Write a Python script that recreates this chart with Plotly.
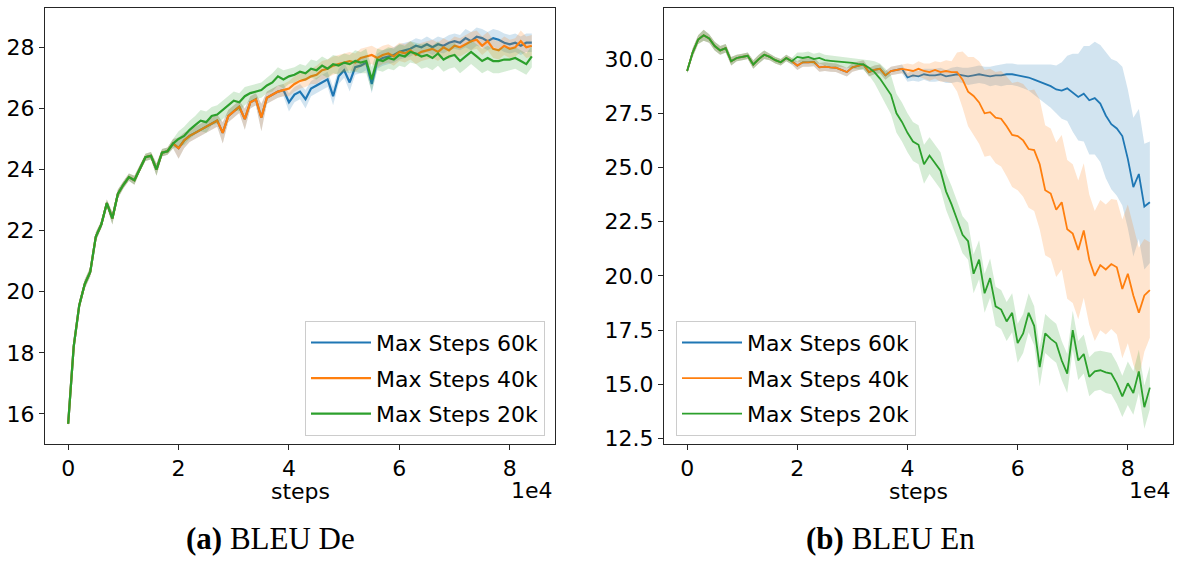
import plotly.graph_objects as go

# Evaluation steps (every 1000 updates)
STEP = 1000
steps = list(range(0, 84001, STEP))

# ---------------- BLEU De ----------------
# shared run before the schedules diverge (0 .. 19k)
de_shared = [15.68, 18.2, 19.55, 20.25, 20.65, 21.8, 22.2, 22.9, 22.4, 23.2,
             23.5, 23.75, 23.65, 24.05, 24.4, 24.45, 24.0, 24.55, 24.6, 24.85]
de_shared_sd = [0.1, 0.15, 0.15, 0.15, 0.15, 0.15, 0.12, 0.12, 0.2, 0.15,
                0.12, 0.12, 0.15, 0.12, 0.12, 0.12, 0.2, 0.12, 0.12, 0.15]
# Max Steps 20k, 20k .. 84k
de_20k_tail = [25.0, 25.1, 25.3, 25.45, 25.6, 25.55, 25.75, 25.8, 25.95, 26.1,
               26.25, 26.2, 26.4, 26.5, 26.55, 26.6, 26.75, 26.85, 27.05, 26.95,
               27.05, 27.1, 27.2, 27.15, 27.3, 27.25, 27.4, 27.3, 27.45, 27.4,
               27.5, 27.45, 27.55, 27.5, 27.55, 26.95, 27.6, 27.55, 27.65, 27.6,
               27.75, 27.7, 27.85, 27.8, 27.7, 27.75, 27.65, 27.8, 27.6, 27.7,
               27.75, 27.55, 27.7, 27.85, 27.7, 27.55, 27.65, 27.55, 27.55, 27.6,
               27.6, 27.65, 27.55, 27.45, 27.7]
de_20k_tail_sd = [0.25, 0.3, 0.3, 0.3, 0.35, 0.35, 0.3, 0.3, 0.3, 0.3,
                  0.3, 0.3, 0.3, 0.25, 0.25, 0.25, 0.25, 0.3, 0.3, 0.3,
                  0.25, 0.25, 0.25, 0.25, 0.3, 0.3, 0.3, 0.3, 0.3, 0.3,
                  0.3, 0.3, 0.35, 0.35, 0.4, 0.4, 0.35, 0.35, 0.35, 0.35,
                  0.35, 0.35, 0.35, 0.35, 0.4, 0.4, 0.4, 0.4, 0.4, 0.4,
                  0.4, 0.4, 0.4, 0.4, 0.4, 0.4, 0.4, 0.4, 0.4, 0.4,
                  0.35, 0.35, 0.35, 0.35, 0.35]
# Max Steps 40k / 60k share this stretch (20k .. 39k)
de_40k_mid = [24.7, 24.95, 25.1, 25.2, 25.3, 25.4, 25.5, 25.6, 25.2, 25.75,
              25.9, 26.05, 25.65, 26.2, 26.3, 25.7, 26.35, 26.45, 26.55, 26.6]
de_40k_mid_sd = [0.35, 0.25, 0.2, 0.2, 0.2, 0.2, 0.2, 0.2, 0.35, 0.2,
                 0.2, 0.2, 0.35, 0.2, 0.2, 0.45, 0.2, 0.2, 0.2, 0.2]
# Max Steps 40k, 40k .. 84k
de_40k_tail = [26.65, 26.8, 26.9, 26.95, 27.05, 27.1, 27.25, 27.3, 27.4, 27.45,
               27.5, 27.55, 27.5, 27.65, 27.7, 27.75, 27.65, 27.75, 27.8, 27.7,
               27.85, 27.8, 27.9, 27.75, 27.85, 27.9, 27.95, 27.85, 28.0, 27.9,
               28.05, 28.0, 28.1, 28.2, 28.25, 28.05, 28.2, 27.95, 27.9, 28.05,
               27.95, 28.0, 28.2, 28.0, 28.05]
de_40k_tail_sd = [0.25, 0.25, 0.25, 0.25, 0.25, 0.3, 0.3, 0.3, 0.3, 0.3,
                  0.3, 0.3, 0.3, 0.3, 0.3, 0.3, 0.3, 0.3, 0.3, 0.3,
                  0.3, 0.3, 0.3, 0.3, 0.3, 0.3, 0.3, 0.3, 0.3, 0.3,
                  0.3, 0.3, 0.3, 0.3, 0.3, 0.3, 0.3, 0.3, 0.3, 0.3,
                  0.3, 0.3, 0.35, 0.35, 0.35]
# Max Steps 60k, 40k .. 84k
de_60k_tail = [26.2, 26.45, 26.55, 26.3, 26.65, 26.75, 26.85, 26.95, 26.4, 27.05,
               27.25, 26.85, 27.35, 27.4, 27.5, 26.8, 27.55, 27.65, 27.7, 27.75,
               27.85, 27.9, 27.95, 28.05, 28.0, 28.1, 28.0, 28.1, 28.05, 28.15,
               28.2, 28.15, 28.3, 28.2, 28.35, 28.3, 28.2, 28.3, 28.25, 28.15,
               28.1, 28.15, 28.05, 28.15, 28.15]
de_60k_tail_sd = [0.3, 0.25, 0.25, 0.3, 0.25, 0.25, 0.25, 0.25, 0.3, 0.25,
                  0.25, 0.3, 0.25, 0.25, 0.25, 0.3, 0.25, 0.25, 0.25, 0.25,
                  0.25, 0.25, 0.25, 0.25, 0.25, 0.25, 0.25, 0.25, 0.25, 0.25,
                  0.25, 0.25, 0.3, 0.3, 0.3, 0.3, 0.3, 0.3, 0.3, 0.3,
                  0.3, 0.3, 0.3, 0.3, 0.3]

# ---------------- BLEU En ----------------
en_shared = [29.45, 30.3, 30.9, 31.1, 30.95, 30.6, 30.4, 30.5, 29.9, 30.05,
             30.1, 30.15, 29.75, 30.0, 30.2, 30.1, 29.95, 29.85, 30.05, 29.9]
en_shared_sd = [0.1, 0.2, 0.2, 0.25, 0.2, 0.2, 0.2, 0.2, 0.2, 0.15,
                0.15, 0.15, 0.2, 0.2, 0.2, 0.15, 0.15, 0.15, 0.15, 0.15]
en_20k_tail = [30.1, 30.05, 30.1, 30.0, 30.05, 29.95, 29.92, 29.9, 29.88, 29.85,
               29.82, 29.78, 29.75, 29.6, 29.4, 29.1, 28.75, 28.35, 27.5, 27.1,
               26.6, 26.2, 26.05, 25.15, 25.55, 25.2, 24.85, 23.9, 23.3, 22.6,
               21.9, 21.6, 20.1, 20.75, 19.2, 19.9, 18.6, 18.45, 17.9, 18.3,
               16.9, 17.35, 18.3, 17.7, 15.8, 17.35, 17.1, 16.9, 16.1, 15.5,
               17.5, 16.1, 16.4, 15.35, 15.6, 15.65, 15.55, 15.5, 15.05, 14.45,
               15.05, 14.6, 15.6, 13.95, 14.85]
en_20k_tail_sd = [0.2, 0.25, 0.25, 0.25, 0.25, 0.25, 0.25, 0.25, 0.25, 0.25,
                  0.25, 0.25, 0.25, 0.35, 0.5, 0.7, 0.8, 0.9, 0.9, 0.9,
                  0.9, 0.9, 0.9, 0.9, 0.85, 0.85, 0.85, 0.85, 0.85, 0.85,
                  0.85, 0.85, 0.9, 0.9, 0.9, 0.9, 0.9, 0.9, 0.9, 0.9,
                  0.9, 0.9, 0.9, 0.9, 0.9, 0.9, 0.9, 0.9, 0.9, 0.9,
                  0.9, 0.9, 0.9, 0.9, 0.9, 0.9, 0.95, 0.95, 0.95, 0.95,
                  1.0, 1.0, 1.0, 1.0, 1.0]
en_40k_mid = [29.7, 29.85, 29.85, 29.87, 29.62, 29.65, 29.62, 29.6, 29.5, 29.4,
              29.62, 29.7, 29.75, 29.4, 29.5, 29.55, 29.25, 29.45, 29.5, 29.55]
en_40k_mid_sd = [0.2, 0.2, 0.2, 0.2, 0.2, 0.2, 0.2, 0.2, 0.2, 0.2,
                 0.2, 0.2, 0.2, 0.2, 0.2, 0.2, 0.2, 0.2, 0.2, 0.2]
en_40k_tail = [29.5, 29.45, 29.55, 29.45, 29.4, 29.5, 29.4, 29.45, 29.4, 29.4,
               29.05, 28.5, 28.3, 28.0, 27.5, 27.55, 27.3, 27.25, 26.9, 26.5,
               26.45, 26.25, 25.85, 25.8, 25.15, 23.95, 23.8, 23.05, 23.4, 22.15,
               21.95, 21.2, 22.1, 20.75, 20.0, 20.5, 20.3, 20.55, 20.4, 19.4,
               20.1, 19.1, 18.3, 19.1, 19.35]
en_40k_tail_sd = [0.3, 0.3, 0.35, 0.35, 0.4, 0.4, 0.45, 0.5, 0.5, 0.9,
                  1.3, 1.6, 1.8, 1.9, 2.0, 2.0, 2.1, 2.2, 2.3, 2.4,
                  2.5, 2.6, 2.7, 2.8, 3.0, 3.0, 3.0, 3.1, 3.1, 3.2,
                  3.2, 3.2, 3.1, 3.0, 3.0, 3.0, 3.0, 3.0, 3.1, 3.2,
                  3.2, 3.2, 3.0, 2.6, 2.2]
en_60k_tail = [29.15, 29.25, 29.2, 29.3, 29.25, 29.25, 29.3, 29.2, 29.25, 29.3,
               29.25, 29.2, 29.25, 29.3, 29.25, 29.2, 29.25, 29.25, 29.3, 29.3,
               29.25, 29.2, 29.15, 29.05, 28.95, 28.85, 28.75, 28.6, 28.55, 28.65,
               28.45, 28.25, 28.4, 28.1, 28.2, 27.95, 27.4, 27.0, 26.8, 26.45,
               25.4, 24.1, 24.7, 23.2, 23.4]
en_60k_tail_sd = [0.2, 0.25, 0.25, 0.25, 0.3, 0.3, 0.3, 0.3, 0.35, 0.35,
                  0.35, 0.4, 0.4, 0.4, 0.4, 0.45, 0.45, 0.5, 0.5, 0.5,
                  0.5, 0.55, 0.6, 0.7, 0.8, 0.9, 1.0, 1.1, 1.3, 1.5,
                  1.8, 2.0, 2.2, 2.5, 2.6, 2.7, 2.9, 3.0, 3.1, 3.2,
                  3.2, 3.2, 3.0, 2.9, 2.8]

labels = ["Max Steps 60k", "Max Steps 40k", "Max Steps 20k"]
colors = [(31, 119, 180), (255, 127, 14), (44, 160, 44)]

de_series = [
    (de_shared + de_40k_mid + de_60k_tail, de_shared_sd + de_40k_mid_sd + de_60k_tail_sd),
    (de_shared + de_40k_mid + de_40k_tail, de_shared_sd + de_40k_mid_sd + de_40k_tail_sd),
    (de_shared + de_20k_tail, de_shared_sd + de_20k_tail_sd),
]
en_series = [
    (en_shared + en_40k_mid + en_60k_tail, en_shared_sd + en_40k_mid_sd + en_60k_tail_sd),
    (en_shared + en_40k_mid + en_40k_tail, en_shared_sd + en_40k_mid_sd + en_40k_tail_sd),
    (en_shared + en_20k_tail, en_shared_sd + en_20k_tail_sd),
]
for mean, sd in de_series + en_series:
    assert len(mean) == len(steps) and len(sd) == len(steps)

W, H = 1177, 561
fig = go.Figure()


def add_panel(series, xa, ya, legend, width):
    for (mean, sd), name, (r, g, b) in zip(series, labels, colors):
        upper = [m + s for m, s in zip(mean, sd)]
        lower = [m - s for m, s in zip(mean, sd)]
        grp = legend + name
        fig.add_trace(go.Scatter(
            x=steps + steps[::-1], y=upper + lower[::-1],
            fill="toself", fillcolor=f"rgba({r},{g},{b},0.2)",
            line=dict(width=0), mode="lines", hoverinfo="skip",
            showlegend=False, legendgroup=grp, legend=legend,
            xaxis=xa, yaxis=ya))
        fig.add_trace(go.Scatter(
            x=steps, y=mean, mode="lines", name=name,
            line=dict(color=f"rgb({r},{g},{b})", width=width),
            legendgroup=grp, legend=legend, xaxis=xa, yaxis=ya))


add_panel(de_series, "x", "y", "legend", 2.2)
add_panel(en_series, "x2", "y2", "legend2", 1.8)

tick_font = dict(family="DejaVu Sans", size=22, color="black")
y_dom = [1 - 450 / H, 1 - 8 / H]
x_ticks = dict(tickvals=[0, 20000, 40000, 60000, 80000], ticktext=["0", "2", "4", "6", "8"])
frame = dict(showline=True, mirror=True, linecolor="#262626", linewidth=1,
             ticks="outside", ticklen=5, tickwidth=1, tickcolor="#262626",
             showgrid=False, zeroline=False, tickfont=tick_font)

legend_style = dict(bgcolor="rgba(255,255,255,0.8)", bordercolor="#cccccc", borderwidth=1,
                    font=dict(family="DejaVu Sans", size=22, color="black"),
                    tracegroupgap=4, traceorder="grouped", itemwidth=60)

en_ticks = [12.5, 15.0, 17.5, 20.0, 22.5, 25.0, 27.5, 30.0]
fig.update_layout(
    width=W, height=H,
    margin=dict(l=0, r=0, t=0, b=0),
    paper_bgcolor="white", plot_bgcolor="white",
    xaxis=dict(domain=[45 / W, 555 / W], range=[-4200, 88200], anchor="y", **x_ticks, **frame),
    yaxis=dict(domain=y_dom, range=[15.03, 29.29], anchor="x",
               tickvals=[16, 18, 20, 22, 24, 26, 28], **frame),
    xaxis2=dict(domain=[664 / W, 1173 / W], range=[-4200, 88200], anchor="y2", **x_ticks, **frame),
    yaxis2=dict(domain=y_dom, range=[12.27, 32.36], anchor="x2",
                tickvals=en_ticks, ticktext=[f"{v:.1f}" for v in en_ticks], **frame),
    legend=dict(x=545 / W, xanchor="right", y=1 - 442 / H, yanchor="bottom", **legend_style),
    legend2=dict(x=676 / W, xanchor="left", y=1 - 442 / H, yanchor="bottom", **legend_style),
)

label_font = dict(family="DejaVu Sans", size=22, color="black")
cap_font = dict(family="Liberation Serif", size=31, color="black")
annotations = [
    dict(text="steps", x=300 / W, y=1 - 499 / H, font=label_font),
    dict(text="steps", x=918 / W, y=1 - 499 / H, font=label_font),
    dict(text="1e4", x=555 / W, y=1 - 498 / H, xanchor="right", font=label_font),
    dict(text="1e4", x=1173 / W, y=1 - 498 / H, xanchor="right", font=label_font),
    dict(text="<b>(a)</b> BLEU De", x=270 / W, y=1 - 546 / H, font=cap_font),
    dict(text="<b>(b)</b> BLEU En", x=890 / W, y=1 - 546 / H, font=cap_font),
]
for a in annotations:
    a.setdefault("xanchor", "center")
    fig.add_annotation(xref="paper", yref="paper", showarrow=False, yanchor="middle", **a)

fig.write_html("out.html")
